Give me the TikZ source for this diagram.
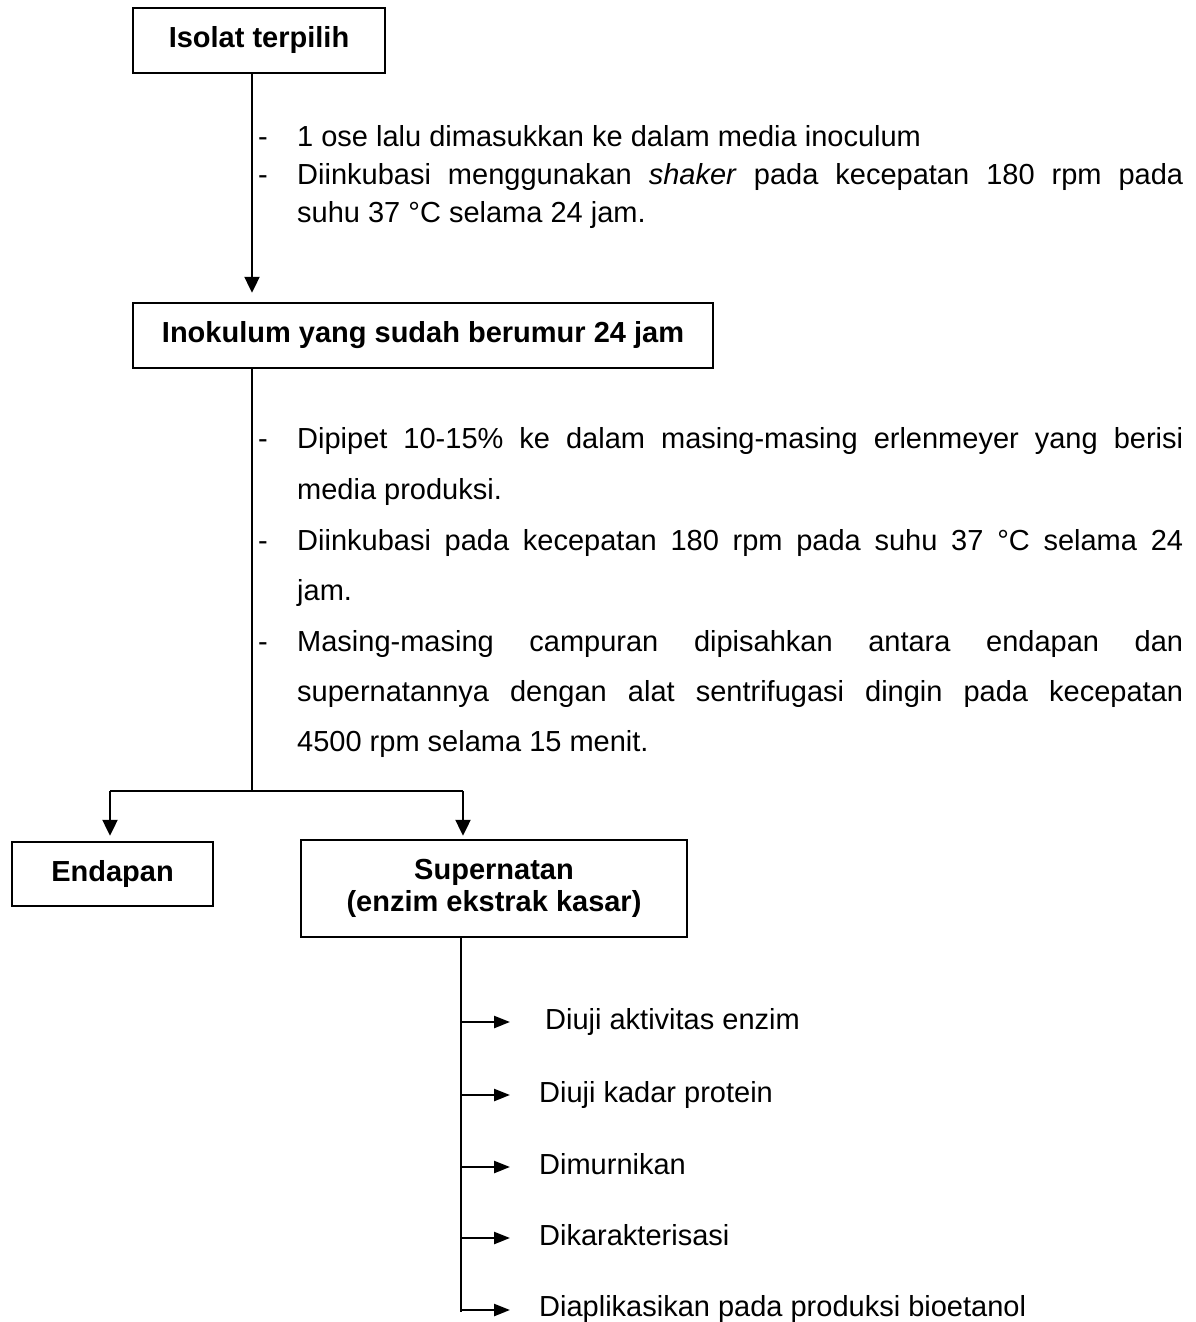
\documentclass[tikz,border=0pt]{standalone}
\usepackage{fontspec}
\setmainfont{Liberation Sans}
\usetikzlibrary{arrows.meta}
\begin{document}
\begin{tikzpicture}[x=1pt,y=-1pt,
  every node/.style={font=\fontsize{29}{33}\selectfont, inner sep=0pt},
  box/.style={draw, line width=2.5pt, align=center,
    font=\fontsize{29}{32}\selectfont\bfseries},
  link/.style={line width=2.4pt},
  arr/.style={line width=2.4pt, -{Triangle[length=16pt,width=15pt]}},
  sarr/.style={line width=2.4pt, -{Triangle[length=16pt,width=12pt]}},
  txt/.style={anchor=base west},
]
\useasboundingbox (0,0) rectangle (1195,1322);

% boxes
\node[box, minimum width=252pt, minimum height=65pt] (b1) at (259,40.5) {Isolat terpilih};
\node[box, minimum width=580pt, minimum height=65pt] (b2) at (423,335.5) {Inokulum yang sudah berumur 24 jam};
\node[box, minimum width=201pt, minimum height=64pt] (b3) at (112.5,874) {Endapan};
\node[box, minimum width=386pt, minimum height=97pt] (b4) at (494,888.5) {Supernatan\\(enzim ekstrak kasar)};

% first step
\coordinate (t1) at (252,0);
\draw[arr, shorten >=9pt] (b1.south -| t1) -- (b2.north -| t1);
\node[txt] (d1) at (258,146) {-};
\node[txt] (l1) at (297,146) {1 ose lalu dimasukkan ke dalam media inoculum};
\node[txt] (d2) at (258,184) {-};
\node[txt] (l2) at (297,184) {\makebox[886pt][s]{Diinkubasi menggunakan \textit{shaker} pada kecepatan 180 rpm pada}};
\node[txt] (l3) at (297,222) {suhu 37 °C selama 24 jam.};

% second step
\coordinate (split) at (252,791);
\coordinate (sl) at (110,791);
\coordinate (sr) at (463,791);
\draw[link] (b2.south -| split) -- (split);
\draw[link] (sl) -- (sr);
\draw[arr, shorten >=5pt] (sl) -- (b3.north -| sl);
\draw[arr, shorten >=3pt] (sr) -- (b4.north -| sr);

\node[txt] (d3) at (258,448) {-};
\node[txt] (m1) at (297,448) {\makebox[886pt][s]{Dipipet 10-15\% ke dalam masing-masing erlenmeyer yang berisi}};
\node[txt] (m2) at (297,499) {media produksi.};
\node[txt] (d4) at (258,550) {-};
\node[txt] (m3) at (297,550) {\makebox[886pt][s]{Diinkubasi pada kecepatan 180 rpm pada suhu 37 °C selama 24}};
\node[txt] (m4) at (297,600) {jam.};
\node[txt] (d5) at (258,651) {-};
\node[txt] (m5) at (297,651) {\makebox[886pt][s]{Masing-masing campuran dipisahkan antara endapan dan}};
\node[txt] (m6) at (297,701) {\makebox[886pt][s]{supernatannya dengan alat sentrifugasi dingin pada kecepatan}};
\node[txt] (m7) at (297,751) {4500 rpm selama 15 menit.};

% analyses of the supernatant
\coordinate (t2) at (461,0);
\coordinate (tend) at (461,1312);
\draw[link] (b4.south -| t2) -- (tend);

\coordinate (a1) at (461,1022);
\coordinate (a2) at (461,1095);
\coordinate (a3) at (461,1167);
\coordinate (a4) at (461,1238);
\coordinate (a5) at (461,1310);
\node[txt] (i1) at (545,1029) {Diuji aktivitas enzim};
\node[txt] (i2) at (539,1102) {Diuji kadar protein};
\node[txt] (i3) at (539,1174) {Dimurnikan};
\node[txt] (i4) at (539,1245) {Dikarakterisasi};
\node[txt] (i5) at (539,1316) {Diaplikasikan pada produksi bioetanol};
\draw[sarr, shorten >=35pt] (a1) -- (a1 -| i1.west);
\draw[sarr, shorten >=29pt] (a2) -- (a2 -| i2.west);
\draw[sarr, shorten >=29pt] (a3) -- (a3 -| i3.west);
\draw[sarr, shorten >=29pt] (a4) -- (a4 -| i4.west);
\draw[sarr, shorten >=29pt] (a5) -- (a5 -| i5.west);
\end{tikzpicture}
\end{document}
